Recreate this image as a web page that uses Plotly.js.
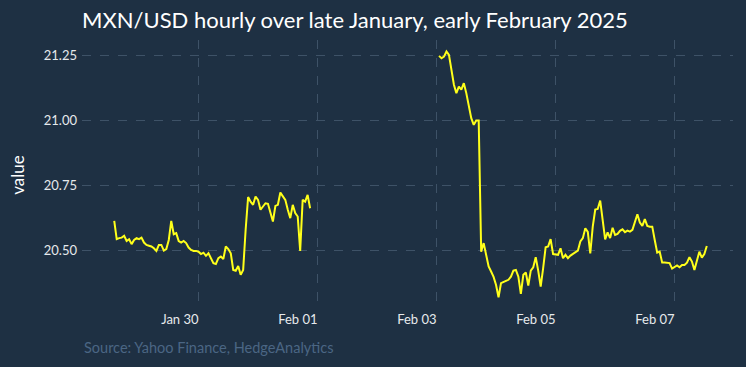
<!DOCTYPE html>
<html>
<head>
<meta charset="utf-8">
<script src="https://cdn.plot.ly/plotly-3.0.1.min.js"></script>
<style>
  html, body { margin: 0; padding: 0; background: #1e3043; }
  #chart { width: 746px; height: 367px; }
</style>
</head>
<body>
<div id="chart"></div>
<script>
// First session: hourly from 2025-01-28 14:00
const seg1Start = "2025-01-28T14:00:00";
const seg1Values = [
  20.615, 20.545, 20.549, 20.551, 20.558, 20.538, 20.545, 20.526, 20.542, 20.549,
  20.545, 20.551, 20.532, 20.523, 20.520, 20.517, 20.510, 20.500, 20.523, 20.523,
  20.501, 20.507, 20.542, 20.615, 20.564, 20.568, 20.538, 20.532, 20.538, 20.530,
  20.513, 20.504, 20.500, 20.500, 20.497, 20.488, 20.493, 20.481, 20.491, 20.472,
  20.453, 20.450, 20.472, 20.478, 20.469, 20.517, 20.507, 20.491, 20.427, 20.424,
  20.442, 20.408, 20.427, 20.581, 20.707, 20.689, 20.677, 20.709, 20.696, 20.658,
  20.673, 20.683, 20.681, 20.651, 20.613, 20.673, 20.677, 20.724, 20.709, 20.696,
  20.658, 20.626, 20.677, 20.645, 20.632, 20.500, 20.696, 20.689, 20.715, 20.664
];
// Second session: hourly from 2025-02-03 01:00
const seg2Start = "2025-02-03T01:00:00";
const seg2Values = [
  21.249, 21.240, 21.246, 21.266, 21.253, 21.195, 21.138, 21.106, 21.131, 21.119,
  21.144, 21.106, 21.054, 21.010, 20.984, 21.001, 21.001, 20.497, 20.530, 20.491,
  20.440, 20.421, 20.400, 20.369, 20.322, 20.376, 20.382, 20.385, 20.389, 20.401,
  20.424, 20.427, 20.401, 20.335, 20.408, 20.417, 20.367, 20.424, 20.437, 20.476,
  20.424, 20.363, 20.434, 20.514, 20.517, 20.545, 20.488, 20.485, 20.485, 20.510,
  20.472, 20.485, 20.472, 20.482, 20.488, 20.494, 20.501, 20.536, 20.549, 20.587,
  20.573, 20.490, 20.593, 20.659, 20.661, 20.693, 20.619, 20.544, 20.571, 20.549,
  20.589, 20.561, 20.565, 20.577, 20.583, 20.572, 20.578, 20.574, 20.581, 20.613,
  20.641, 20.609, 20.596, 20.622, 20.596, 20.593, 20.593, 20.542, 20.493, 20.497,
  20.455, 20.455, 20.455, 20.453, 20.432, 20.437, 20.444, 20.437, 20.446, 20.446,
  20.455, 20.476, 20.459, 20.427, 20.468, 20.497, 20.474, 20.488, 20.519
];
const xTickVals = ["2025-01-30", "2025-02-01", "2025-02-03", "2025-02-05", "2025-02-07"];
const xTickText = ["Jan 30", "Feb 01", "Feb 03", "Feb 05", "Feb 07"];
const yTickVals = [20.50, 20.75, 21.00, 21.25];
const yTickText = ["20.50", "20.75", "21.00", "21.25"];

function hourly(start, n) {
  const base = new Date(start + "Z").getTime();
  const out = [];
  for (let i = 0; i < n; i++) {
    const d = new Date(base + i * 3600000);
    out.push(d.toISOString().slice(0, 19).replace("T", " "));
  }
  return out;
}
const x1 = hourly(seg1Start, seg1Values.length);
const x2 = hourly(seg2Start, seg2Values.length);
const xs = x1.concat(["2025-02-01 12:00:00"], x2);
const ys = seg1Values.concat([null], seg2Values);

const bg = "#1e3043";
const grid = "#3e5267";
const data = [{
  type: "scatter", mode: "lines", x: xs, y: ys,
  line: { color: "#ffff1a", width: 2 },
  connectgaps: false, hoverinfo: "skip"
}];
const layout = {
  width: 746, height: 367,
  paper_bgcolor: bg, plot_bgcolor: bg,
  margin: { l: 82, r: 13, t: 40, b: 57 },
  font: { family: "Lato, 'Open Sans', sans-serif", color: "#e6e9ec", size: 13 },
  title: {
    text: "MXN/USD hourly over late January, early February 2025",
    font: { family: "Lato, sans-serif", size: 22, color: "#ffffff" },
    xref: "paper", x: 0, xanchor: "left",
    yref: "container", y: 0.945, yanchor: "middle"
  },
  showlegend: false,
  xaxis: {
    type: "date",
    range: ["2025-01-28 01:00:00", "2025-02-07 23:34:00"],
    tickvals: xTickVals, ticktext: xTickText,
    ticklabelposition: "outside left",
    showgrid: true, gridcolor: grid, griddash: "dash", gridwidth: 1,
    zeroline: false, showline: false, ticks: "",
    tickfont: { size: 13, color: "#e6e9ec" }
  },
  yaxis: {
    range: [20.273, 21.310],
    tickvals: yTickVals, ticktext: yTickText,
    showgrid: true, gridcolor: grid, griddash: "dash", gridwidth: 1,
    zeroline: false, showline: false, ticks: "",
    ticklabelstandoff: 4,
    tickfont: { size: 13, color: "#e6e9ec" },
    title: { text: "value", font: { size: 17, color: "#ffffff" }, standoff: 14 }
  },
  annotations: [{
    text: "Source: Yahoo Finance, HedgeAnalytics",
    xref: "paper", yref: "paper", x: 0, y: -0.14,
    xanchor: "left", yanchor: "middle", showarrow: false,
    font: { size: 14.5, color: "#4b6684" }
  }]
};
Plotly.newPlot("chart", data, layout, { displayModeBar: false, staticPlot: true });
</script>
</body>
</html>
